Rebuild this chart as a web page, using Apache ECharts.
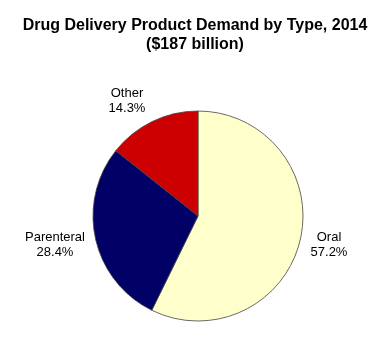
<!DOCTYPE html>
<html><head><meta charset="utf-8">
<script src="https://cdn.jsdelivr.net/npm/echarts@6/dist/echarts.min.js"></script>
<style>html,body{margin:0;padding:0;background:#fff}#c{width:390px;height:338px}</style>
</head><body><div id="c"></div>
<script>
const categories = ['Oral', 'Parenteral', 'Other'];
const shares = [57.2, 28.4, 14.3];
const colors = ['#FFFFCC', '#000066', '#CC0000'];
const labelPos = [[329, 245], [55, 245], [127, 101]];

const chart = echarts.init(document.getElementById('c'), null, {renderer: 'canvas'});
chart.setOption({
  animation: false,
  backgroundColor: '#fff',
  title: {
    text: 'Drug Delivery Product Demand by Type, 2014\n($187 billion)',
    left: 'center', top: 11,
    textStyle: {fontFamily: 'Liberation Sans, Arial', fontSize: 16, fontWeight: 'bold', color: '#000', lineHeight: 19}
  },
  series: [{
    type: 'pie',
    center: [198, 216],
    radius: 105,
    startAngle: 90,
    clockwise: true,
    data: categories.map((c, i) => ({name: c, value: shares[i], itemStyle: {color: colors[i]}})),
    itemStyle: {borderColor: '#444', borderWidth: 0.8},
    label: {
      show: true, position: 'inside', overflow: 'none',
      formatter: p => p.name + '\n' + p.value.toFixed(1) + '%',
      fontFamily: 'Liberation Sans, Arial', fontSize: 13, color: '#000', lineHeight: 15, align: 'center',
      textBorderWidth: 0
    },
    labelLine: {show: false},
    labelLayout: p => ({x: labelPos[p.dataIndex][0], y: labelPos[p.dataIndex][1], align: 'center', verticalAlign: 'middle'}),
    emphasis: {disabled: true}
  }]
});
</script></body></html>
